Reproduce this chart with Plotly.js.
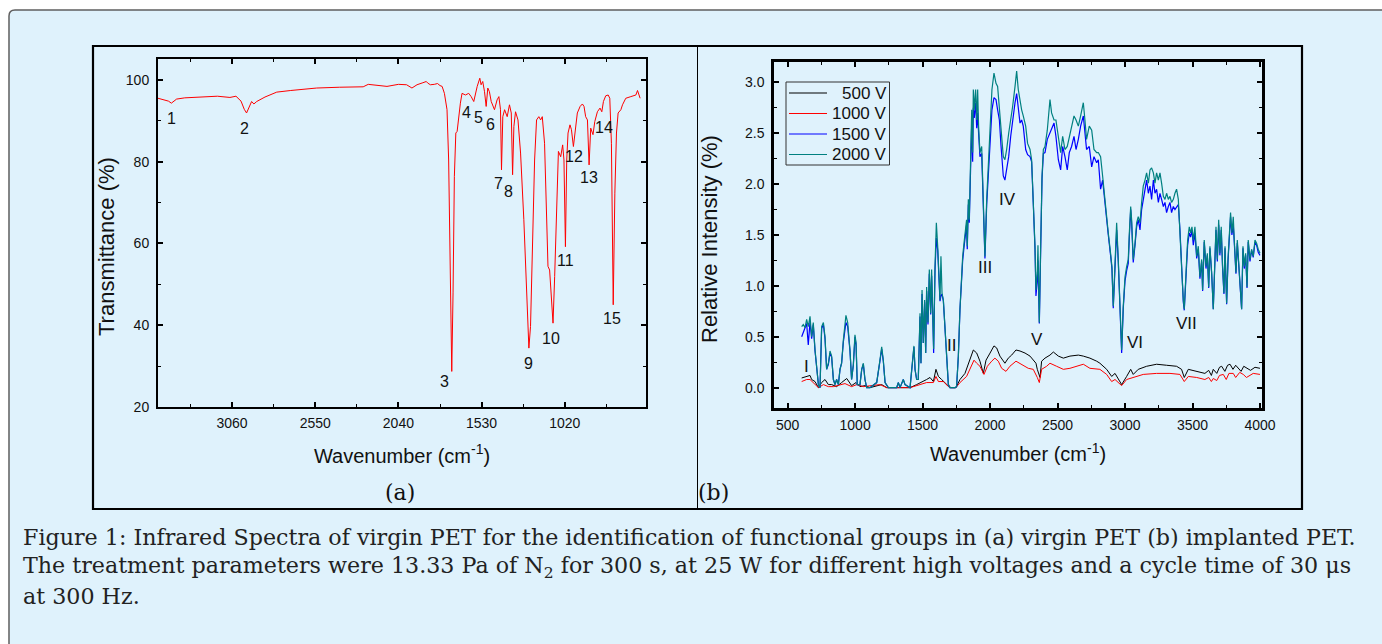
<!DOCTYPE html>
<html><head><meta charset="utf-8">
<script src="https://cdn.plot.ly/plotly-3.0.1.min.js"></script>
<style>html,body{margin:0;padding:0;background:#fff;}#chart{width:1382px;height:644px;}</style>
</head><body><div id="chart"></div>
<script>
// ---------- Panel (a): virgin PET transmittance ----------
const transWn = [3514,3480,3450,3432,3400,3350,3258,3150,3073,3036,3005,2985,2971,2955,2940,2926,2909,2858,2786,2700,2541,2400,2256,2225,2160,2110,2040,1990,1957,1926,1890,1869,1860,1850,1844,1820,1800,1785,1772,1758,1742,1732,1721,1713,1705,1697,1688,1680,1660,1650,1629,1609,1594,1578,1557,1541,1533,1523,1512,1502,1492,1482,1471,1451,1435,1424,1414,1408,1400,1389,1373,1359,1348,1340,1332,1322,1307,1291,1271,1250,1240,1230,1219,1205,1193,1179,1168,1158,1144,1131,1123,1113,1102,1092,1082,1070,1059,1045,1033,1025,1016,1008,1000,988,979,967,959,943,926,912,902,892,881,871,861,847,836,820,804,793,783,769,754,744,734,723,713,703,693,676,666,646,615,584,574,564,558];
const transT = [95.5,95.2,94.8,94.3,95.3,95.6,95.8,96.0,95.7,96.0,94.8,92.8,91.9,93.2,94.7,94.1,94.7,95.8,97.0,97.4,98.0,98.2,98.3,98.9,98.7,98.4,98.9,98.8,98.0,98.8,99.3,99.6,99.2,99.0,98.8,98.9,99.1,98.6,98.4,96.7,92.7,80.4,56.0,28.7,47.9,76.4,87.0,87.4,94.3,96.7,96.3,96.7,95.9,94.7,98.4,100.4,98.8,99.6,97.1,93.5,98.0,97.1,94.7,92.7,95.1,95.9,92.7,78.0,91.0,92.7,91.0,93.9,91.9,76.8,88.6,92.2,90.2,82.1,65.8,43.8,34.4,39.7,60.1,80.4,90.2,91.0,90.2,91.0,84.5,68.2,54.4,53.5,47.8,40.5,51.9,70.7,82.5,81.2,84.1,80.4,59.2,80.4,87.0,89.0,87.8,83.7,87.0,91.9,93.5,94.1,93.5,91.0,90.2,79.2,88.2,86.6,89.8,92.2,93.1,92.2,94.7,96.1,96.3,95.5,84.5,45.0,72.3,87.0,91.9,92.7,93.9,95.5,95.9,96.3,97.4,95.8,95.5];
const peakNames = ['1','2','3','4','5','6','7','8','9','10','11','12','13','14','15'];
const peakWn = [3434,2981,1755,1621,1546,1474,1426,1366,1243,1105,1016,961,870,782,729];
const peakT  = [90.5,88.2,26.2,92.0,90.9,89.0,74.6,72.7,30.6,36.7,55.8,81.2,76.2,88.4,41.6];
const aTicks = [3060,2550,2040,1530,1020];

// ---------- Panel (b): implanted PET relative intensity ----------
const highWn = [604,616,629,641,653,666,678,690,703,715,728,740,752,765,777,789,802,814,826,839,851,863,876,888,900,913,925,932,945,962,974,987,999,1007,1016,1036,1049,1061,1073,1086,1110,1160,1184,1197,1209,1222,1246,1308,1320,1333,1357,1370,1407,1426,1436,1444,1456,1468,1481,1488,1496,1505,1515,1523,1530,1540,1550,1560,1567,1575,1582,1592,1602,1612,1622,1629,1636,1644,1654,1666,1678,1691,1703,1740,1752,1765,1777,1789,1797,1807,1817,1826,1831,1839,1846,1856,1864,1871,1876,1883,1893,1901,1908,1915,1925,1938,1950,1962,1975,1987,1994,2004,2014,2029,2044,2056,2069,2081,2098,2110,2123,2138,2153,2167,2185,2197,2209,2222,2234,2246,2264,2278,2296,2308,2320,2333,2340,2350,2355,2365,2375,2385,2395,2407,2424,2444,2456,2474,2488,2506,2523,2538,2555,2572,2587,2604,2622,2637,2654,2671,2691,2703,2715,2735,2753,2770,2790,2802,2819,2834,2851,2876,2893,2903,2913,2926,2938,2950,2963,2975,2987,3000,3012,3024,3032,3042,3049,3061,3074,3086,3098,3111,3123,3135,3148,3160,3173,3185,3197,3210,3222,3234,3247,3259,3271,3284,3296,3308,3321,3333,3345,3358,3370,3382,3395,3407,3419,3432,3439,3452,3464,3476,3486,3496,3506,3518,3531,3543,3555,3568,3575,3587,3600,3610,3620,3629,3642,3654,3664,3674,3684,3694,3703,3713,3723,3733,3741,3753,3763,3773,3782,3792,3802,3812,3822,3832,3842,3852,3864,3874,3884,3894,3904,3913,3926,3938,3950,3963,3975,3987,4000];
const v2000 = [0.60,0.62,0.59,0.67,0.60,0.70,0.50,0.64,0.37,0.21,0.03,0.00,0.60,0.64,0.50,0.18,0.24,0.36,0.31,0.08,0.03,0.08,0.03,0.18,0.24,0.47,0.67,0.71,0.64,0.37,0.08,0.23,0.52,0.44,0.03,0.03,0.18,0.24,0.08,0.00,0.00,0.05,0.27,0.40,0.27,0.05,0.00,0.00,0.05,0.00,0.08,0.03,0.00,0.27,0.41,0.18,0.08,0.08,0.73,0.24,0.96,0.44,0.86,0.34,0.99,0.64,1.16,0.73,1.16,0.73,0.38,1.19,1.62,1.39,1.13,0.86,1.29,0.93,0.86,0.60,0.27,0.03,0.00,0.00,0.01,0.31,0.77,1.13,1.29,1.42,1.55,1.65,1.39,1.85,1.65,2.31,2.73,2.31,2.93,2.73,2.93,2.63,2.93,2.57,2.31,2.37,1.75,1.29,1.85,2.17,2.40,2.70,2.93,3.09,2.99,2.96,2.76,2.50,2.27,2.24,2.34,2.50,2.63,2.76,2.96,3.11,2.93,2.80,2.73,2.67,2.57,2.40,2.34,2.24,1.85,1.39,0.96,1.13,1.40,0.64,1.39,2.08,2.34,2.37,2.53,2.83,2.70,2.63,2.63,2.44,2.31,2.47,2.34,2.37,2.47,2.57,2.67,2.63,2.57,2.67,2.80,2.63,2.44,2.57,2.53,2.34,2.31,2.31,2.27,2.08,1.82,1.52,1.32,1.19,0.80,1.26,1.62,1.26,0.73,0.37,0.80,1.09,1.19,1.26,1.52,1.78,1.65,1.26,1.42,1.62,1.68,1.62,1.82,1.98,2.04,2.11,2.01,2.14,2.16,2.11,2.01,2.11,2.04,2.11,2.01,1.88,1.85,1.91,1.85,1.88,1.82,1.85,1.91,1.95,1.85,1.58,1.19,0.86,0.77,1.13,1.45,1.58,1.52,1.58,1.45,1.58,1.29,1.39,1.09,1.26,0.96,1.45,1.19,1.32,0.99,1.39,1.13,0.77,1.29,1.58,1.26,1.65,1.32,1.58,1.19,0.93,1.39,0.83,1.26,1.58,1.72,1.52,1.68,1.39,1.13,1.45,1.26,1.09,0.77,1.39,1.19,1.32,0.99,1.45,1.26,1.36,1.29,1.45,1.42,1.36,1.32];
const v1500 = [0.50,0.55,0.60,0.63,0.42,0.65,0.48,0.62,0.36,0.21,0.03,0.00,0.58,0.62,0.48,0.18,0.23,0.34,0.30,0.08,0.03,0.08,0.03,0.18,0.24,0.45,0.62,0.64,0.60,0.36,0.08,0.22,0.50,0.42,0.03,0.03,0.18,0.23,0.08,0.00,0.00,0.05,0.26,0.38,0.26,0.05,0.00,0.00,0.05,0.00,0.08,0.03,0.00,0.27,0.40,0.18,0.08,0.08,0.70,0.24,0.92,0.44,0.84,0.34,0.95,0.62,1.12,0.72,1.10,0.72,0.34,1.15,1.47,1.35,1.10,0.85,0.90,0.92,0.85,0.60,0.27,0.03,0.00,0.00,0.01,0.31,0.77,1.10,1.25,1.38,1.50,1.60,1.36,1.80,1.62,2.25,2.60,2.22,2.75,2.65,2.80,2.55,2.70,2.50,2.27,2.30,1.70,1.27,1.80,2.10,2.30,2.57,2.73,2.85,2.83,2.73,2.63,2.38,2.08,2.04,2.14,2.27,2.47,2.63,2.80,2.89,2.76,2.60,2.63,2.57,2.34,2.29,2.27,2.22,1.82,1.36,0.90,1.05,1.25,0.63,1.35,2.05,2.30,2.31,2.44,2.50,2.55,2.60,2.47,2.24,2.14,2.37,2.27,2.14,2.31,2.37,2.47,2.34,2.44,2.57,2.67,2.50,2.34,2.37,2.17,2.27,2.21,2.24,1.95,2.04,1.80,1.50,1.30,1.17,0.78,1.24,1.55,1.24,0.72,0.34,0.78,1.05,1.15,1.22,1.48,1.75,1.62,1.23,1.40,1.58,1.65,1.55,1.75,1.85,1.98,2.04,1.91,1.98,1.85,2.04,1.91,1.95,1.82,1.91,1.85,1.78,1.82,1.72,1.78,1.82,1.72,1.78,1.75,1.78,1.80,1.55,1.17,0.84,0.76,1.10,1.40,1.52,1.48,1.55,1.40,1.52,1.27,1.36,1.07,1.24,0.95,1.43,1.17,1.30,0.98,1.37,1.12,0.77,1.27,1.55,1.24,1.60,1.30,1.55,1.17,0.92,1.37,0.82,1.24,1.55,1.68,1.50,1.60,1.37,1.12,1.42,1.24,1.07,0.77,1.37,1.17,1.30,0.98,1.43,1.24,1.35,1.28,1.43,1.40,1.33,1.30];
const wn500 = [604,641,666,678,703,728,752,777,802,826,863,900,938,974,1007,1036,1073,1110,1197,1234,1407,1456,1505,1530,1555,1580,1599,1617,1641,1678,1703,1747,1777,1814,1851,1876,1901,1925,1950,1970,2000,2029,2049,2073,2110,2135,2160,2192,2222,2259,2296,2320,2340,2350,2360,2370,2382,2407,2444,2469,2506,2543,2592,2654,2691,2740,2790,2814,2864,2901,2926,2950,2975,3012,3042,3061,3098,3160,3234,3308,3382,3419,3439,3469,3531,3592,3620,3640,3654,3680,3700,3716,3740,3760,3778,3800,3820,3839,3860,3880,3901,3930,3963,4000];
const v500 = [0.095,0.11,0.12,0.08,0.06,0.00,0.05,0.08,0.03,0.03,0.01,0.05,0.09,0.02,0.05,0.01,0.02,0.00,0.03,0.00,0.00,0.03,0.06,0.08,0.10,0.06,0.18,0.11,0.08,0.03,0.00,0.00,0.08,0.14,0.27,0.37,0.34,0.26,0.14,0.27,0.34,0.41,0.39,0.31,0.24,0.29,0.32,0.37,0.36,0.34,0.31,0.27,0.24,0.18,0.13,0.10,0.26,0.29,0.32,0.35,0.31,0.29,0.31,0.32,0.31,0.29,0.26,0.24,0.18,0.11,0.14,0.08,0.03,0.11,0.18,0.13,0.18,0.21,0.23,0.22,0.21,0.18,0.10,0.18,0.16,0.14,0.17,0.12,0.18,0.14,0.20,0.21,0.16,0.22,0.23,0.18,0.22,0.19,0.16,0.21,0.19,0.17,0.20,0.19];
const wn1000 = [604,641,666,690,728,765,802,839,925,974,1012,1061,1184,1234,1407,1481,1530,1580,1599,1617,1654,1691,1715,1747,1777,1826,1864,1881,1901,1925,1955,1980,2012,2036,2061,2086,2118,2147,2192,2234,2283,2320,2340,2350,2365,2382,2419,2444,2493,2543,2592,2641,2691,2740,2790,2814,2864,2901,2926,2950,2975,3012,3061,3135,3234,3333,3407,3439,3469,3531,3592,3620,3640,3654,3680,3700,3728,3750,3770,3802,3820,3850,3876,3900,3950,4000];
const v1000 = [0.06,0.08,0.08,0.05,0.00,0.03,0.01,0.01,0.04,0.01,0.03,0.01,0.03,0.00,0.00,0.03,0.05,0.05,0.11,0.06,0.06,0.01,0.00,0.00,0.05,0.11,0.21,0.27,0.24,0.21,0.13,0.21,0.26,0.29,0.26,0.19,0.16,0.21,0.26,0.23,0.19,0.18,0.13,0.10,0.05,0.18,0.21,0.24,0.21,0.18,0.19,0.21,0.23,0.19,0.18,0.18,0.13,0.06,0.08,0.05,0.02,0.08,0.10,0.13,0.14,0.14,0.13,0.06,0.11,0.10,0.08,0.10,0.06,0.09,0.07,0.12,0.13,0.08,0.14,0.14,0.10,0.15,0.13,0.10,0.14,0.13];
const seriesNames = ['500 V', '1000 V', '1500 V', '2000 V'];
const seriesColors = ['#000000', '#ff0000', '#0000ff', '#008080'];
const bandNames = ['I','II','III','IV','V','VI','VII'];
const bandWn = [643,1716,1962,2129,2351,3071,3452];
const bandV  = [0.21,0.41,1.18,1.85,0.47,0.44,0.63];

const captionLines = [
  'Figure 1: Infrared Spectra of virgin PET for the identification of functional groups in (a) virgin PET (b) implanted PET.',
  'The treatment parameters were 13.33 Pa of N<sub>2</sub> for 300 s, at 25 W for different high voltages and a cycle time of 30 μs',
  'at 300 Hz.'
];

// ---------- layout helpers ----------
const W = 1382, H = 644;
const px = x => x / W, py = y => 1 - y / H;
const BG = '#dff2fc';
const SANS = 'Arial, Liberation Sans, sans-serif';
const SERIF = 'DejaVu Serif, serif';

function roundRectPath(x0, y0, x1, y1, r) {
  const P = (x, y) => px(x).toFixed(5) + ',' + py(y).toFixed(5);
  return 'M' + P(x0 + r, y0) + ' L' + P(x1, y0) + ' L' + P(x1, y1) + ' L' + P(x0, y1) +
         ' L' + P(x0, y0 + r) + ' Q' + P(x0, y0) + ' ' + P(x0 + r, y0) + ' Z';
}

const traces = [
  {x: transWn, y: transT, xaxis: 'x', yaxis: 'y', type: 'scatter', mode: 'lines',
   line: {color: '#ff0000', width: 1}, showlegend: false, name: 'virgin PET'},
  {x: wn500, y: v500, xaxis: 'x2', yaxis: 'y2', type: 'scatter', mode: 'lines',
   line: {color: seriesColors[0], width: 1}, name: seriesNames[0], showlegend: false},
  {x: wn1000, y: v1000, xaxis: 'x2', yaxis: 'y2', type: 'scatter', mode: 'lines',
   line: {color: seriesColors[1], width: 1}, name: seriesNames[1], showlegend: false},
  {x: highWn, y: v1500, xaxis: 'x2', yaxis: 'y2', type: 'scatter', mode: 'lines',
   line: {color: seriesColors[2], width: 1.2}, name: seriesNames[2], showlegend: false},
  {x: highWn, y: v2000, xaxis: 'x2', yaxis: 'y2', type: 'scatter', mode: 'lines',
   line: {color: seriesColors[3], width: 1.2}, name: seriesNames[3], showlegend: false}
];

const axCommon = {
  showline: true, linecolor: '#000', mirror: 'ticks', ticks: 'inside', ticklen: 5,
  tickwidth: 1.5, tickcolor: '#000', showgrid: false, zeroline: false,
  tickfont: {family: SANS, size: 14, color: '#111'}, ticklabelstandoff: 4
};

const annotations = [];
peakNames.forEach((t, i) => annotations.push({
  text: t, x: peakWn[i], y: peakT[i], xref: 'x', yref: 'y', showarrow: false,
  font: {family: SANS, size: 16, color: '#111'}, xanchor: 'center', yanchor: 'middle'
}));
bandNames.forEach((t, i) => annotations.push({
  text: t, x: bandWn[i], y: bandV[i], xref: 'x2', yref: 'y2', showarrow: false,
  font: {family: SANS, size: 17, color: '#111'}, xanchor: 'center', yanchor: 'middle'
}));
// y-axis titles (placed as rotated text, as in the reference they sit off-centre)
annotations.push({text: 'Transmittance (%)', textangle: -90, x: px(107), y: py(247), xref: 'paper', yref: 'paper',
  showarrow: false, font: {family: SANS, size: 22, color: '#111'}, xanchor: 'center', yanchor: 'middle'});
annotations.push({text: 'Relative Intensity (%)', textangle: -90, x: px(709), y: py(239), xref: 'paper', yref: 'paper',
  showarrow: false, font: {family: SANS, size: 22, color: '#111'}, xanchor: 'center', yanchor: 'middle'});
annotations.push({text: '(a)', x: px(400), y: py(492), xref: 'paper', yref: 'paper', showarrow: false,
  font: {family: SERIF, size: 22, color: '#111'}, xanchor: 'center', yanchor: 'middle'});
annotations.push({text: '(b)', x: px(696), y: py(492), xref: 'paper', yref: 'paper', showarrow: false,
  font: {family: SERIF, size: 22, color: '#111'}, xanchor: 'left', yanchor: 'middle'});
const capY = [537, 567, 596];
captionLines.forEach((t, i) => annotations.push({
  text: t, x: px(21), y: py(capY[i]), xref: 'paper', yref: 'paper', showarrow: false,
  font: {family: SERIF, size: 22.2, color: '#222'}, xanchor: 'left', yanchor: 'middle'
}));

// legend box drawn in the top-left of panel (b)
const legBox = {x0: 786, x1: 889.5, y0: 82, y1: 165};
const legRowY = [93, 113.5, 134, 154.5];
const shapes = [
  {type: 'path', xref: 'paper', yref: 'paper', layer: 'below',
   path: roundRectPath(9, 10, 1420, 700, 6), fillcolor: BG, line: {color: '#5f5f5f', width: 1.5}},
  {type: 'rect', xref: 'paper', yref: 'paper', layer: 'below',
   x0: px(93), x1: px(1302), y0: py(46), y1: py(509), line: {color: '#000', width: 2.2}},
  {type: 'line', xref: 'paper', yref: 'paper', layer: 'below',
   x0: px(697.5), x1: px(697.5), y0: py(46), y1: py(509), line: {color: '#000', width: 1}},
  {type: 'rect', xref: 'paper', yref: 'paper', layer: 'above',
   x0: px(legBox.x0), x1: px(legBox.x1), y0: py(legBox.y0), y1: py(legBox.y1),
   fillcolor: BG, line: {color: '#333', width: 1}}
];
seriesNames.forEach((n, i) => {
  shapes.push({type: 'line', xref: 'paper', yref: 'paper', layer: 'above',
    x0: px(789), x1: px(827), y0: py(legRowY[i]), y1: py(legRowY[i]),
    line: {color: seriesColors[i], width: 1.2}});
  annotations.push({text: n, x: px(888.5), y: py(legRowY[i]), xref: 'paper', yref: 'paper',
    showarrow: false, xanchor: 'right', yanchor: 'middle',
    font: {family: SANS, size: 17, color: '#111'}});
});

const layout = {
  width: W, height: H, margin: {l: 0, r: 0, t: 0, b: 0},
  paper_bgcolor: '#ffffff', plot_bgcolor: 'rgba(0,0,0,0)',
  font: {family: SANS, color: '#111'}, showlegend: false,
  xaxis: Object.assign({}, axCommon, {
    domain: [px(158), px(646)], range: [3514, 522], anchor: 'y', linewidth: 2,
    tickvals: aTicks, ticktext: aTicks.map(String), ticklabelstandoff: 2,
    minor: {ticks: 'inside', ticklen: 3, tickwidth: 1, tickcolor: '#000', dtick: 255, tick0: 3060},
    title: {text: 'Wavenumber (cm<sup>-1</sup>)', font: {family: SANS, size: 20, color: '#111'}, standoff: 19}
  }),
  yaxis: Object.assign({}, axCommon, {
    domain: [py(407), py(59)], range: [20, 105.1], anchor: 'x', linewidth: 2,
    dtick: 20, tick0: 0,
    minor: {ticks: 'inside', ticklen: 3, tickwidth: 1, tickcolor: '#000', dtick: 10, tick0: 0}
  }),
  xaxis2: Object.assign({}, axCommon, {
    domain: [px(774), px(1262)], range: [399, 4015], anchor: 'y2', linewidth: 2.5,
    dtick: 500, tick0: 0, ticklabelstandoff: 2,
    minor: {ticks: 'inside', ticklen: 3, tickwidth: 1, tickcolor: '#000', dtick: 250, tick0: 0},
    title: {text: 'Wavenumber (cm<sup>-1</sup>)', font: {family: SANS, size: 20, color: '#111'}, standoff: 16}
  }),
  yaxis2: Object.assign({}, axCommon, {
    domain: [py(408), py(62)], range: [-0.2, 3.2], anchor: 'x2', linewidth: 2.5,
    dtick: 0.5, tick0: 0, tickformat: '.1f',
    minor: {ticks: 'inside', ticklen: 3, tickwidth: 1, tickcolor: '#000', dtick: 0.25, tick0: 0}
  }),
  shapes: shapes,
  annotations: annotations
};

Plotly.newPlot('chart', traces, layout, {displayModeBar: false, responsive: false}).then(gd => {
  // drop empty placeholder text nodes that Plotly leaves for unused titles
  gd.querySelectorAll('text').forEach(t => { if (!t.textContent.trim()) t.remove(); });
});
</script></body></html>
